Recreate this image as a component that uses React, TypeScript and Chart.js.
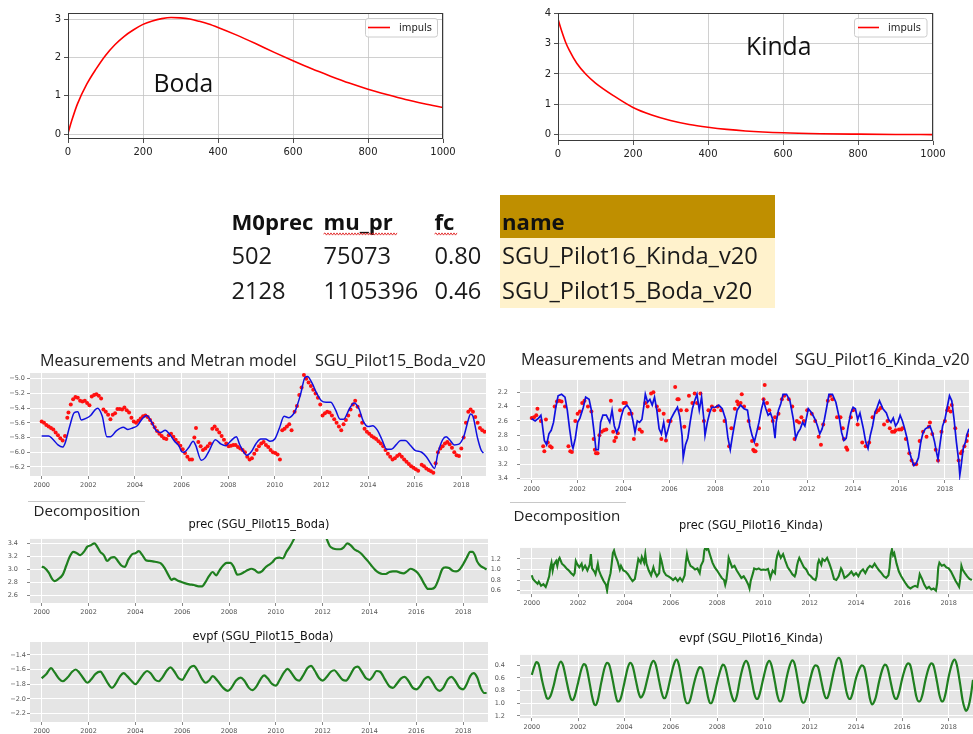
import React, { useEffect, useMemo, useRef } from "react";
import { Chart, registerables } from "chart.js";
Chart.register(...registerables);
Chart.defaults.font.family = "DejaVu Sans";

// ---------------- DATA ----------------
const impulseXTicks = [0, 200, 400, 600, 800, 1000];
const bodaImpulseYTicks = [0, 1, 2, 3];
const kindaImpulseYTicks = [0, 1, 2, 3, 4];
const yearTicks = [2000, 2002, 2004, 2006, 2008, 2010, 2012, 2014, 2016, 2018];

const bodaImpulseX = [0, 10, 25, 50, 75, 100, 125, 150, 175, 200, 225, 250, 275, 300, 325, 350, 375, 400, 450, 500, 550, 600, 650, 700, 750, 800, 850, 900, 950, 1000];
const bodaImpulseY = [0.02, 0.35, 0.78, 1.3, 1.7, 2.05, 2.33, 2.55, 2.72, 2.86, 2.95, 3.01, 3.04, 3.03, 3.0, 2.94, 2.87, 2.78, 2.58, 2.36, 2.13, 1.91, 1.7, 1.51, 1.33, 1.17, 1.03, 0.9, 0.79, 0.69];

const kindaImpulseX = [0, 10, 20, 30, 50, 75, 100, 150, 200, 250, 300, 350, 400, 450, 500, 600, 700, 800, 900, 1000];
const kindaImpulseY = [3.8, 3.4, 3.05, 2.78, 2.35, 1.98, 1.7, 1.27, 0.9, 0.65, 0.47, 0.34, 0.25, 0.18, 0.13, 0.07, 0.04, 0.025, 0.015, 0.01];

const tableHeader = ["M0prec", "mu_pr", "fc", "name"];
const tableRow1 = ["502", "75073", "0.80", "SGU_Pilot16_Kinda_v20"];
const tableRow2 = ["2128", "1105396", "0.46", "SGU_Pilot15_Boda_v20"];

const bodaModel: [number, number][] = [[2000.0,-5.78],[2000.3,-5.78],[2000.5,-5.83],[2000.7,-5.90],[2000.9,-5.93],[2001.0,-5.88],[2001.2,-5.65],[2001.4,-5.46],[2001.55,-5.45],[2001.7,-5.56],[2001.9,-5.54],[2002.1,-5.50],[2002.3,-5.42],[2002.4,-5.40],[2002.6,-5.51],[2002.8,-5.79],[2002.95,-5.79],[2003.2,-5.71],[2003.5,-5.66],[2003.7,-5.69],[2003.9,-5.67],[2004.1,-5.64],[2004.3,-5.55],[2004.5,-5.50],[2004.7,-5.58],[2004.9,-5.70],[2005.1,-5.73],[2005.3,-5.70],[2005.5,-5.76],[2005.7,-5.85],[2005.9,-5.92],[2006.0,-5.99],[2006.1,-6.00],[2006.3,-5.94],[2006.5,-5.85],[2006.6,-5.90],[2006.85,-6.11],[2007.0,-6.08],[2007.2,-5.97],[2007.45,-5.83],[2007.7,-5.89],[2007.9,-5.91],[2008.1,-5.85],[2008.35,-5.79],[2008.5,-5.90],[2008.8,-6.04],[2009.0,-5.99],[2009.2,-5.88],[2009.4,-5.82],[2009.6,-5.82],[2009.8,-5.85],[2010.0,-5.82],[2010.2,-5.67],[2010.4,-5.51],[2010.6,-5.53],[2010.8,-5.48],[2010.9,-5.42],[2011.1,-5.22],[2011.3,-4.98],[2011.4,-4.97],[2011.6,-5.06],[2011.8,-5.20],[2012.0,-5.30],[2012.2,-5.32],[2012.4,-5.32],[2012.6,-5.42],[2012.8,-5.55],[2012.95,-5.55],[2013.2,-5.41],[2013.4,-5.33],[2013.6,-5.40],[2013.8,-5.58],[2014.0,-5.65],[2014.2,-5.64],[2014.4,-5.70],[2014.6,-5.83],[2014.8,-5.96],[2015.0,-5.96],[2015.2,-5.90],[2015.4,-5.84],[2015.6,-5.84],[2015.8,-5.90],[2016.0,-5.97],[2016.3,-6.00],[2016.5,-6.06],[2016.7,-6.16],[2016.85,-6.22],[2017.0,-6.01],[2017.2,-5.83],[2017.35,-5.79],[2017.5,-5.83],[2017.7,-5.90],[2017.9,-5.89],[2018.1,-5.79],[2018.3,-5.56],[2018.4,-5.48],[2018.5,-5.51],[2018.7,-5.81],[2018.85,-5.97],[2018.95,-6.01]];

const bodaObs: [number, number][] = [[2000.0,-5.58],[2000.1,-5.60],[2000.2,-5.63],[2000.3,-5.65],[2000.4,-5.67],[2000.5,-5.69],[2000.6,-5.73],[2000.7,-5.77],[2000.8,-5.81],[2000.9,-5.84],[2001.0,-5.78],[2001.1,-5.53],[2001.15,-5.46],[2001.25,-5.35],[2001.35,-5.28],[2001.45,-5.25],[2001.55,-5.26],[2001.65,-5.30],[2001.75,-5.31],[2001.85,-5.30],[2001.95,-5.33],[2002.05,-5.36],[2002.15,-5.24],[2002.25,-5.22],[2002.35,-5.21],[2002.45,-5.23],[2002.55,-5.27],[2002.65,-5.42],[2002.75,-5.45],[2002.85,-5.49],[2002.95,-5.55],[2003.05,-5.49],[2003.15,-5.47],[2003.25,-5.41],[2003.35,-5.41],[2003.45,-5.42],[2003.55,-5.39],[2003.65,-5.43],[2003.75,-5.46],[2003.85,-5.53],[2003.95,-5.58],[2004.05,-5.60],[2004.15,-5.57],[2004.25,-5.54],[2004.35,-5.51],[2004.45,-5.50],[2004.55,-5.52],[2004.65,-5.56],[2004.75,-5.61],[2004.85,-5.66],[2004.95,-5.71],[2005.05,-5.75],[2005.15,-5.78],[2005.25,-5.81],[2005.35,-5.82],[2005.45,-5.77],[2005.55,-5.75],[2005.65,-5.79],[2005.75,-5.83],[2005.85,-5.87],[2005.95,-5.91],[2006.05,-5.96],[2006.15,-6.01],[2006.25,-6.06],[2006.35,-6.10],[2006.45,-6.10],[2006.55,-5.80],[2006.62,-5.67],[2006.72,-5.86],[2006.82,-5.92],[2006.92,-5.97],[2007.02,-5.95],[2007.12,-5.92],[2007.22,-5.88],[2007.32,-5.68],[2007.42,-5.65],[2007.52,-5.69],[2007.62,-5.73],[2007.72,-5.78],[2007.82,-5.83],[2007.92,-5.88],[2008.02,-5.92],[2008.12,-5.91],[2008.22,-5.90],[2008.32,-5.90],[2008.42,-5.93],[2008.52,-5.95],[2008.62,-5.97],[2008.72,-6.00],[2008.82,-6.06],[2008.92,-6.10],[2009.02,-6.08],[2009.12,-6.02],[2009.22,-5.97],[2009.32,-5.92],[2009.42,-5.88],[2009.52,-5.86],[2009.62,-5.90],[2009.72,-5.93],[2009.82,-5.97],[2009.92,-6.00],[2010.02,-6.01],[2010.12,-6.03],[2010.22,-6.10],[2010.32,-5.70],[2010.42,-5.68],[2010.52,-5.65],[2010.62,-5.62],[2010.72,-5.70],[2010.85,-5.45],[2010.95,-5.37],[2011.05,-5.22],[2011.15,-5.12],[2011.25,-4.95],[2011.35,-5.00],[2011.45,-5.05],[2011.55,-5.10],[2011.65,-5.15],[2011.75,-5.20],[2011.85,-5.26],[2011.95,-5.35],[2012.05,-5.50],[2012.15,-5.47],[2012.25,-5.45],[2012.35,-5.46],[2012.45,-5.50],[2012.55,-5.55],[2012.65,-5.60],[2012.75,-5.65],[2012.85,-5.70],[2012.95,-5.62],[2013.05,-5.56],[2013.15,-5.50],[2013.25,-5.42],[2013.35,-5.35],[2013.45,-5.30],[2013.55,-5.38],[2013.65,-5.50],[2013.75,-5.60],[2013.85,-5.68],[2013.95,-5.72],[2014.05,-5.75],[2014.15,-5.78],[2014.25,-5.80],[2014.35,-5.82],[2014.45,-5.85],[2014.55,-5.88],[2014.65,-5.92],[2014.75,-5.97],[2014.85,-6.02],[2014.95,-6.06],[2015.05,-6.10],[2015.15,-6.08],[2015.25,-6.05],[2015.35,-6.03],[2015.45,-6.06],[2015.55,-6.10],[2015.65,-6.13],[2015.75,-6.16],[2015.85,-6.19],[2015.95,-6.21],[2016.05,-6.23],[2016.15,-6.25],[2016.3,-6.17],[2016.4,-6.19],[2016.5,-6.22],[2016.6,-6.24],[2016.7,-6.26],[2016.8,-6.28],[2016.9,-6.15],[2017.0,-6.00],[2017.1,-5.95],[2017.2,-5.92],[2017.3,-5.88],[2017.4,-5.86],[2017.5,-5.89],[2017.6,-5.94],[2017.7,-6.00],[2017.8,-6.04],[2017.9,-6.05],[2018.0,-5.95],[2018.1,-5.80],[2018.2,-5.60],[2018.3,-5.45],[2018.4,-5.42],[2018.5,-5.45],[2018.6,-5.52],[2018.7,-5.60],[2018.8,-5.67],[2018.9,-5.70],[2019.0,-5.72]];

const kindaModel: [number, number][] = [[2000.0,2.57],[2000.15,2.60],[2000.3,2.56],[2000.4,2.52],[2000.45,2.62],[2000.55,2.87],[2000.65,2.93],[2000.75,2.78],[2000.85,2.73],[2000.95,2.62],[2001.05,2.41],[2001.15,2.25],[2001.3,2.23],[2001.45,2.27],[2001.55,2.45],[2001.65,2.71],[2001.75,2.93],[2001.8,2.98],[2001.9,2.84],[2002.0,2.62],[2002.1,2.56],[2002.25,2.41],[2002.35,2.27],[2002.5,2.30],[2002.6,2.45],[2002.7,2.71],[2002.8,3.00],[2002.9,3.00],[2003.0,2.62],[2003.1,2.52],[2003.25,2.52],[2003.4,2.62],[2003.5,2.45],[2003.6,2.67],[2003.7,2.76],[2003.8,2.69],[2003.9,2.54],[2004.0,2.43],[2004.15,2.38],[2004.3,2.45],[2004.4,2.58],[2004.5,2.76],[2004.6,2.60],[2004.7,2.62],[2004.8,2.58],[2004.9,2.36],[2004.95,2.23],[2005.05,2.34],[2005.15,2.30],[2005.25,2.38],[2005.35,2.27],[2005.45,2.45],[2005.55,2.71],[2005.65,2.78],[2005.75,2.62],[2005.85,2.82],[2005.95,2.71],[2006.05,2.58],[2006.2,2.49],[2006.35,2.41],[2006.45,2.54],[2006.55,2.80],[2006.6,3.11],[2006.7,2.93],[2006.8,2.84],[2006.9,2.62],[2007.0,2.43],[2007.1,2.32],[2007.2,2.23],[2007.3,2.45],[2007.4,2.27],[2007.5,2.58],[2007.55,2.80],[2007.65,2.62],[2007.75,2.49],[2007.85,2.41],[2008.0,2.41],[2008.15,2.38],[2008.3,2.43],[2008.45,2.58],[2008.55,2.84],[2008.65,3.00],[2008.75,2.80],[2008.85,2.62],[2008.95,2.45],[2009.1,2.38],[2009.25,2.43],[2009.4,2.45],[2009.5,2.67],[2009.6,2.80],[2009.7,2.89],[2009.8,2.76],[2009.9,2.62],[2010.0,2.45],[2010.1,2.32],[2010.2,2.43],[2010.3,2.52],[2010.4,2.49],[2010.5,2.58],[2010.6,2.84],[2010.65,2.62],[2010.75,2.45],[2010.85,2.36],[2010.95,2.23],[2011.1,2.23],[2011.25,2.32],[2011.4,2.58],[2011.5,2.84],[2011.6,2.76],[2011.7,2.71],[2011.8,2.62],[2011.9,2.67],[2012.05,2.43],[2012.2,2.49],[2012.35,2.58],[2012.45,2.67],[2012.55,2.78],[2012.65,2.71],[2012.75,2.58],[2012.85,2.41],[2012.95,2.23],[2013.1,2.23],[2013.25,2.34],[2013.4,2.56],[2013.5,2.76],[2013.6,2.87],[2013.7,2.84],[2013.8,2.65],[2013.9,2.49],[2014.0,2.41],[2014.1,2.43],[2014.2,2.58],[2014.3,2.49],[2014.45,2.71],[2014.55,2.89],[2014.65,2.98],[2014.75,2.80],[2014.85,2.67],[2014.95,2.49],[2015.05,2.41],[2015.15,2.32],[2015.3,2.43],[2015.45,2.49],[2015.55,2.58],[2015.65,2.62],[2015.75,2.56],[2015.85,2.67],[2015.95,2.62],[2016.05,2.52],[2016.15,2.60],[2016.25,2.71],[2016.35,2.84],[2016.45,3.02],[2016.55,3.13],[2016.65,3.22],[2016.75,3.19],[2016.85,3.11],[2016.95,2.89],[2017.05,2.76],[2017.15,2.71],[2017.25,2.69],[2017.35,2.67],[2017.45,2.76],[2017.55,2.89],[2017.65,3.06],[2017.7,3.13],[2017.8,2.89],[2017.9,2.67],[2018.0,2.58],[2018.1,2.41],[2018.2,2.25],[2018.3,2.32],[2018.4,2.58],[2018.5,2.89],[2018.6,3.15],[2018.65,3.35],[2018.7,3.24],[2018.8,2.98],[2018.9,2.89],[2018.95,2.80],[2019.05,2.71]];

const kindaObs: [number, number][] = [[2000.0,2.56],[2000.1,2.55],[2000.2,2.52],[2000.25,2.43],[2000.4,2.60],[2000.5,2.95],[2000.55,3.02],[2000.62,2.58],[2000.7,2.90],[2000.8,2.95],[2000.87,2.97],[2001.0,2.40],[2001.1,2.33],[2001.2,2.32],[2001.3,2.33],[2001.45,2.40],[2001.6,2.95],[2001.68,3.02],[2001.75,3.03],[2001.9,2.60],[2002.0,2.50],[2002.1,2.47],[2002.2,2.35],[2002.3,2.32],[2002.45,2.40],[2002.6,2.47],[2002.7,2.85],[2002.75,3.00],[2002.8,3.05],[2002.87,3.05],[2002.95,2.80],[2003.05,2.75],[2003.15,2.73],[2003.25,2.72],[2003.45,2.32],[2003.55,2.75],[2003.6,2.88],[2003.67,2.83],[2003.75,2.77],[2003.85,2.45],[2004.0,2.35],[2004.1,2.35],[2004.25,2.50],[2004.35,2.50],[2004.45,2.85],[2004.7,2.72],[2004.8,2.75],[2004.95,2.35],[2005.05,2.40],[2005.2,2.22],[2005.3,2.20],[2005.45,2.40],[2005.55,2.45],[2005.65,2.85],[2005.75,2.50],[2005.85,2.87],[2005.95,2.60],[2006.05,2.60],[2006.25,2.13],[2006.35,2.30],[2006.4,2.30],[2006.5,2.45],[2006.65,2.68],[2006.75,2.45],[2006.85,2.25],[2007.0,2.35],[2007.1,2.22],[2007.2,2.35],[2007.35,2.22],[2007.5,2.60],[2007.7,2.45],[2007.85,2.40],[2007.95,2.45],[2008.1,2.40],[2008.25,2.45],[2008.4,2.60],[2008.6,2.95],[2008.7,2.70],[2008.85,2.43],[2008.95,2.33],[2009.0,2.37],[2009.1,2.35],[2009.15,2.23],[2009.25,2.40],[2009.45,2.60],[2009.6,2.88],[2009.65,3.00],[2009.7,3.02],[2009.75,3.02],[2009.8,2.93],[2009.9,2.70],[2010.1,2.30],[2010.15,2.10],[2010.25,2.35],[2010.35,2.45],[2010.5,2.60],[2010.6,2.55],[2010.75,2.50],[2010.9,2.30],[2011.0,2.25],[2011.2,2.30],[2011.35,2.40],[2011.45,2.85],[2011.55,2.60],[2011.65,2.62],[2011.75,2.55],[2011.85,2.60],[2012.0,2.45],[2012.2,2.50],[2012.35,2.60],[2012.5,2.82],[2012.6,2.93],[2012.7,2.65],[2012.9,2.32],[2013.0,2.25],[2013.1,2.30],[2013.3,2.55],[2013.45,2.55],[2013.55,2.70],[2013.6,2.85],[2013.7,2.97],[2013.75,3.00],[2013.9,2.55],[2014.0,2.45],[2014.2,2.65],[2014.4,2.90],[2014.55,2.95],[2014.7,2.90],[2014.85,2.55],[2015.0,2.48],[2015.1,2.45],[2015.2,2.42],[2015.35,2.65],[2015.5,2.60],[2015.6,2.70],[2015.7,2.75],[2015.8,2.75],[2015.85,2.73],[2016.0,2.72],[2016.1,2.72],[2016.15,2.70],[2016.3,2.85],[2016.45,3.05],[2016.55,3.15],[2016.65,3.20],[2016.75,3.20],[2016.9,2.88],[2017.05,2.75],[2017.2,2.82],[2017.3,2.68],[2017.35,2.62],[2017.45,2.78],[2017.6,3.00],[2017.7,3.15],[2017.85,2.75],[2018.0,2.60],[2018.1,2.45],[2018.15,2.42],[2018.25,2.47],[2018.3,2.38],[2018.45,2.70],[2018.6,3.15],[2018.7,3.05],[2018.75,3.02],[2018.85,2.95],[2018.95,2.88],[2019.0,2.80]];

const bodaPrec: [number, number][] = [[2000.0,3.04],[2000.1,3.03],[2000.3,2.95],[2000.45,2.85],[2000.55,2.82],[2000.7,2.85],[2000.9,2.92],[2001.05,3.06],[2001.2,3.20],[2001.35,3.27],[2001.5,3.25],[2001.65,3.22],[2001.8,3.27],[2001.95,3.35],[2002.1,3.37],[2002.25,3.40],[2002.35,3.36],[2002.5,3.27],[2002.65,3.22],[2002.8,3.13],[2002.95,3.18],[2003.1,3.19],[2003.25,3.13],[2003.4,3.06],[2003.55,3.04],[2003.7,3.15],[2003.85,3.23],[2004.0,3.25],[2004.15,3.28],[2004.3,3.22],[2004.45,3.14],[2004.6,3.13],[2004.8,3.12],[2004.95,3.11],[2005.1,3.09],[2005.25,3.02],[2005.4,2.92],[2005.55,2.84],[2005.65,2.86],[2005.8,2.83],[2005.95,2.81],[2006.1,2.79],[2006.3,2.77],[2006.5,2.76],[2006.7,2.74],[2006.85,2.74],[2007.0,2.81],[2007.15,2.90],[2007.3,2.96],[2007.45,2.91],[2007.6,2.99],[2007.75,3.06],[2007.9,3.10],[2008.05,3.10],[2008.2,3.04],[2008.35,2.92],[2008.5,2.93],[2008.65,2.96],[2008.8,2.99],[2008.95,3.01],[2009.1,2.99],[2009.25,2.95],[2009.4,2.97],[2009.55,3.03],[2009.7,3.07],[2009.85,3.11],[2010.0,3.17],[2010.15,3.18],[2010.3,3.17],[2010.45,3.27],[2010.6,3.35],[2010.75,3.45],[2010.85,3.53],[2011.1,3.72],[2011.5,3.85],[2011.9,3.72],[2012.05,3.58],[2012.15,3.49],[2012.3,3.36],[2012.45,3.32],[2012.6,3.31],[2012.75,3.31],[2012.9,3.34],[2013.05,3.40],[2013.2,3.37],[2013.35,3.31],[2013.5,3.28],[2013.65,3.24],[2013.8,3.18],[2013.95,3.12],[2014.1,3.05],[2014.25,2.99],[2014.4,2.95],[2014.55,2.93],[2014.7,2.93],[2014.85,2.96],[2015.0,2.97],[2015.15,2.97],[2015.3,2.95],[2015.45,2.94],[2015.6,2.97],[2015.75,3.01],[2015.9,2.99],[2016.05,2.95],[2016.2,2.87],[2016.35,2.77],[2016.5,2.70],[2016.65,2.70],[2016.8,2.73],[2016.95,2.85],[2017.1,3.00],[2017.25,3.03],[2017.4,3.02],[2017.55,2.98],[2017.7,2.97],[2017.85,3.00],[2018.0,3.08],[2018.15,3.18],[2018.3,3.27],[2018.4,3.27],[2018.5,3.22],[2018.6,3.12],[2018.75,3.05],[2018.9,3.02],[2019.0,3.00]];

const kindaPrec: [number, number][] = [[2000.0,0.89],[2000.05,0.82],[2000.15,0.77],[2000.25,0.73],[2000.3,0.77],[2000.4,0.69],[2000.5,0.72],[2000.6,0.67],[2000.65,0.73],[2000.75,0.87],[2000.8,1.04],[2000.85,1.13],[2000.9,0.98],[2000.95,1.09],[2001.05,1.16],[2001.1,1.07],[2001.15,1.18],[2001.2,1.22],[2001.3,1.11],[2001.4,1.07],[2001.5,1.02],[2001.6,0.98],[2001.7,0.93],[2001.8,0.89],[2001.85,0.93],[2001.9,1.16],[2001.95,1.11],[2002.05,1.04],[2002.15,1.11],[2002.2,1.0],[2002.3,1.07],[2002.4,0.98],[2002.5,1.09],[2002.55,1.29],[2002.6,1.02],[2002.7,0.96],[2002.75,0.91],[2002.85,1.11],[2002.9,0.98],[2003.0,0.87],[2003.1,0.78],[2003.2,0.71],[2003.25,0.60],[2003.3,0.76],[2003.4,0.93],[2003.45,1.11],[2003.5,1.31],[2003.55,1.36],[2003.6,1.27],[2003.7,1.16],[2003.8,1.0],[2003.85,1.07],[2003.95,0.98],[2004.05,0.96],[2004.15,0.91],[2004.25,0.84],[2004.35,0.78],[2004.45,0.82],[2004.55,1.07],[2004.6,1.2],[2004.7,1.13],[2004.75,1.24],[2004.85,1.13],[2004.9,1.29],[2004.95,1.11],[2005.05,0.98],[2005.15,0.89],[2005.25,1.04],[2005.3,0.96],[2005.4,0.87],[2005.5,0.93],[2005.55,1.24],[2005.6,1.16],[2005.7,0.96],[2005.8,0.89],[2005.9,0.87],[2006.0,0.84],[2006.1,0.80],[2006.2,0.84],[2006.3,0.78],[2006.4,0.84],[2006.5,0.78],[2006.6,0.89],[2006.65,1.13],[2006.7,1.29],[2006.75,1.18],[2006.85,1.07],[2006.95,1.04],[2007.05,1.0],[2007.15,1.02],[2007.25,0.93],[2007.3,1.07],[2007.4,1.16],[2007.45,1.36],[2007.5,1.42],[2007.55,1.38],[2007.6,1.41],[2007.7,1.27],[2007.8,1.13],[2007.9,1.04],[2008.0,0.98],[2008.1,0.91],[2008.2,0.84],[2008.3,0.80],[2008.35,0.71],[2008.4,0.80],[2008.45,0.98],[2008.5,1.22],[2008.55,1.16],[2008.65,1.04],[2008.75,1.07],[2008.85,0.98],[2008.95,0.91],[2009.05,0.84],[2009.15,0.87],[2009.25,0.80],[2009.35,0.71],[2009.4,0.64],[2009.45,0.78],[2009.55,0.93],[2009.6,1.02],[2009.7,1.0],[2009.8,1.02],[2009.9,0.99],[2010.0,1.0],[2010.1,0.99],[2010.2,1.01],[2010.3,0.84],[2010.4,0.98],[2010.5,0.93],[2010.55,1.16],[2010.6,1.27],[2010.65,1.33],[2010.75,1.22],[2010.85,1.29],[2010.95,1.16],[2011.05,1.04],[2011.15,0.98],[2011.25,0.91],[2011.35,0.87],[2011.4,0.93],[2011.45,1.07],[2011.5,1.16],[2011.55,1.22],[2011.65,1.13],[2011.75,1.04],[2011.85,1.0],[2011.95,0.91],[2012.05,0.87],[2012.15,0.82],[2012.25,0.80],[2012.3,0.87],[2012.35,1.11],[2012.4,1.18],[2012.5,1.09],[2012.55,1.2],[2012.65,1.16],[2012.75,1.22],[2012.85,1.11],[2012.95,0.98],[2013.05,0.82],[2013.15,0.80],[2013.25,0.87],[2013.35,1.02],[2013.4,0.98],[2013.5,0.84],[2013.6,0.87],[2013.7,0.91],[2013.8,0.96],[2013.9,0.89],[2014.0,0.93],[2014.1,0.87],[2014.2,0.96],[2014.3,1.0],[2014.4,0.93],[2014.5,1.02],[2014.6,1.07],[2014.7,1.04],[2014.8,1.11],[2014.9,1.04],[2015.0,0.98],[2015.1,0.93],[2015.2,0.87],[2015.3,0.84],[2015.4,0.89],[2015.45,1.04],[2015.5,1.29],[2015.55,1.38],[2015.6,1.27],[2015.65,1.31],[2015.75,1.11],[2015.85,0.96],[2015.95,0.87],[2016.05,0.80],[2016.15,0.73],[2016.25,0.67],[2016.35,0.64],[2016.45,0.67],[2016.55,0.69],[2016.65,0.67],[2016.7,0.78],[2016.75,0.91],[2016.85,0.82],[2016.95,0.71],[2017.05,0.64],[2017.15,0.67],[2017.25,0.62],[2017.35,0.64],[2017.45,0.60],[2017.5,0.73],[2017.55,1.04],[2017.6,1.13],[2017.7,1.07],[2017.8,1.09],[2017.9,1.04],[2018.0,1.02],[2018.1,0.96],[2018.2,0.87],[2018.3,0.78],[2018.4,0.71],[2018.45,0.67],[2018.5,0.82],[2018.55,1.07],[2018.6,1.0],[2018.7,0.93],[2018.8,0.87],[2018.9,0.82],[2019.0,0.80]];

const bodaEvpf: [number, number][] = [[2000.0,-1.72],[2000.2,-1.66],[2000.4,-1.58],[2000.55,-1.64],[2000.75,-1.73],[2000.9,-1.76],[2001.1,-1.71],[2001.3,-1.63],[2001.45,-1.60],[2001.6,-1.64],[2001.8,-1.73],[2001.95,-1.78],[2002.1,-1.74],[2002.3,-1.66],[2002.5,-1.63],[2002.65,-1.69],[2002.85,-1.80],[2003.0,-1.85],[2003.15,-1.80],[2003.35,-1.69],[2003.5,-1.65],[2003.65,-1.69],[2003.85,-1.76],[2004.0,-1.80],[2004.15,-1.75],[2004.35,-1.66],[2004.5,-1.62],[2004.65,-1.65],[2004.85,-1.74],[2005.0,-1.76],[2005.15,-1.71],[2005.35,-1.61],[2005.5,-1.57],[2005.65,-1.62],[2005.85,-1.72],[2006.0,-1.74],[2006.15,-1.67],[2006.35,-1.57],[2006.5,-1.55],[2006.65,-1.61],[2006.85,-1.73],[2007.0,-1.78],[2007.15,-1.75],[2007.3,-1.69],[2007.5,-1.75],[2007.75,-1.85],[2007.95,-1.89],[2008.1,-1.85],[2008.3,-1.75],[2008.5,-1.71],[2008.65,-1.75],[2008.85,-1.85],[2009.0,-1.88],[2009.15,-1.84],[2009.35,-1.73],[2009.5,-1.68],[2009.65,-1.72],[2009.85,-1.80],[2010.0,-1.82],[2010.15,-1.75],[2010.35,-1.64],[2010.5,-1.59],[2010.65,-1.64],[2010.85,-1.73],[2011.0,-1.75],[2011.15,-1.69],[2011.35,-1.58],[2011.5,-1.55],[2011.65,-1.61],[2011.85,-1.72],[2012.0,-1.75],[2012.15,-1.71],[2012.35,-1.63],[2012.5,-1.61],[2012.65,-1.66],[2012.85,-1.74],[2013.0,-1.75],[2013.15,-1.69],[2013.35,-1.58],[2013.5,-1.56],[2013.65,-1.62],[2013.85,-1.72],[2014.0,-1.74],[2014.15,-1.69],[2014.3,-1.62],[2014.45,-1.63],[2014.65,-1.73],[2014.85,-1.83],[2015.0,-1.85],[2015.15,-1.80],[2015.35,-1.72],[2015.5,-1.70],[2015.65,-1.75],[2015.85,-1.85],[2016.0,-1.87],[2016.15,-1.83],[2016.35,-1.73],[2016.5,-1.70],[2016.65,-1.75],[2016.85,-1.86],[2017.0,-1.89],[2017.15,-1.85],[2017.35,-1.73],[2017.5,-1.70],[2017.65,-1.75],[2017.85,-1.85],[2018.0,-1.87],[2018.15,-1.80],[2018.3,-1.69],[2018.45,-1.65],[2018.6,-1.71],[2018.75,-1.85],[2018.9,-1.92],[2019.0,-1.92]];

const kindaEvpf: [number, number][] = [[2000.0,0.55],[2000.1,0.43],[2000.2,0.35],[2000.3,0.39],[2000.45,0.65],[2000.55,0.80],[2000.65,0.92],[2000.7,0.93],[2000.8,0.89],[2000.95,0.71],[2001.1,0.47],[2001.25,0.34],[2001.35,0.40],[2001.5,0.65],[2001.6,0.82],[2001.7,0.94],[2001.75,0.95],[2001.85,0.89],[2002.0,0.67],[2002.15,0.45],[2002.25,0.38],[2002.35,0.42],[2002.5,0.69],[2002.6,0.89],[2002.7,1.02],[2002.75,1.03],[2002.85,0.95],[2003.0,0.67],[2003.15,0.43],[2003.25,0.36],[2003.35,0.40],[2003.5,0.65],[2003.6,0.84],[2003.7,0.97],[2003.75,0.97],[2003.85,0.91],[2004.0,0.67],[2004.15,0.43],[2004.25,0.36],[2004.35,0.41],[2004.5,0.65],[2004.6,0.82],[2004.7,0.91],[2004.75,0.90],[2004.85,0.82],[2005.0,0.60],[2005.15,0.39],[2005.25,0.33],[2005.35,0.39],[2005.5,0.65],[2005.6,0.82],[2005.7,0.92],[2005.75,0.92],[2005.85,0.82],[2006.0,0.58],[2006.15,0.37],[2006.25,0.31],[2006.35,0.39],[2006.5,0.69],[2006.6,0.91],[2006.7,1.0],[2006.75,1.0],[2006.85,0.93],[2007.0,0.69],[2007.15,0.50],[2007.25,0.43],[2007.35,0.45],[2007.5,0.69],[2007.6,0.89],[2007.7,1.0],[2007.75,1.0],[2007.85,0.91],[2008.0,0.67],[2008.15,0.47],[2008.25,0.39],[2008.35,0.43],[2008.5,0.67],[2008.6,0.84],[2008.7,0.95],[2008.75,0.97],[2008.85,0.89],[2009.0,0.60],[2009.15,0.39],[2009.25,0.33],[2009.35,0.39],[2009.5,0.65],[2009.6,0.84],[2009.7,0.93],[2009.75,0.93],[2009.85,0.84],[2010.0,0.60],[2010.15,0.39],[2010.25,0.33],[2010.35,0.40],[2010.5,0.67],[2010.6,0.87],[2010.7,0.97],[2010.75,0.97],[2010.85,0.89],[2011.0,0.60],[2011.15,0.39],[2011.25,0.32],[2011.35,0.38],[2011.5,0.67],[2011.6,0.89],[2011.7,0.99],[2011.75,0.99],[2011.85,0.91],[2012.0,0.65],[2012.15,0.45],[2012.25,0.40],[2012.35,0.42],[2012.5,0.65],[2012.6,0.82],[2012.7,0.92],[2012.75,0.92],[2012.85,0.82],[2013.0,0.56],[2013.15,0.34],[2013.25,0.28],[2013.35,0.34],[2013.5,0.65],[2013.6,0.84],[2013.7,0.93],[2013.75,0.93],[2013.85,0.84],[2014.0,0.60],[2014.15,0.45],[2014.25,0.40],[2014.35,0.43],[2014.5,0.71],[2014.6,0.93],[2014.7,1.02],[2014.75,1.0],[2014.85,0.91],[2015.0,0.65],[2015.15,0.45],[2015.25,0.39],[2015.35,0.43],[2015.5,0.67],[2015.6,0.84],[2015.7,0.93],[2015.75,0.93],[2015.85,0.84],[2016.0,0.60],[2016.15,0.42],[2016.25,0.37],[2016.35,0.41],[2016.5,0.69],[2016.6,0.89],[2016.7,0.97],[2016.75,0.97],[2016.85,0.89],[2017.0,0.63],[2017.15,0.43],[2017.25,0.37],[2017.35,0.41],[2017.5,0.67],[2017.6,0.87],[2017.7,0.97],[2017.75,0.97],[2017.85,0.87],[2018.0,0.58],[2018.15,0.37],[2018.25,0.31],[2018.35,0.39],[2018.5,0.71],[2018.6,0.95],[2018.7,1.09],[2018.75,1.12],[2018.85,1.06],[2018.95,0.89],[2019.05,0.63]];

const bodaMeasYTicks = [-6.2, -6.0, -5.8, -5.6, -5.4, -5.2, -5.0];
const kindaMeasYTicks = [2.2, 2.4, 2.6, 2.8, 3.0, 3.2, 3.4];
const bodaPrecYTicks = [2.6, 2.8, 3.0, 3.2, 3.4];
const kindaPrecYTicks = [0.6, 0.8, 1.0, 1.2];
const bodaEvpfYTicks = [-2.2, -2.0, -1.8, -1.6, -1.4];
const kindaEvpfYTicks = [0.4, 0.6, 0.8, 1.0, 1.2];

// ---------------- HELPERS ----------------
type Rect = { x: number; y: number; w: number; h: number };
type Margin = { l: number; t: number; r: number; b: number };

const GREEN = "#1f7f1f";
const fmt1 = (v: number) => v.toFixed(1).replace("-", "\u2212");
const fmt0 = (v: number) => String(Math.round(v));

function framePlugin(style: "gg" | "classic") {
  return {
    id: "frame_" + style,
    beforeDraw(chart: any) {
      if (style !== "gg") return;
      const a = chart.chartArea;
      const ctx = chart.ctx;
      ctx.save();
      ctx.fillStyle = "#e5e5e5";
      ctx.fillRect(a.left, a.top, a.right - a.left, a.bottom - a.top);
      ctx.restore();
    },
    afterDraw(chart: any) {
      if (style !== "classic") return;
      const a = chart.chartArea;
      const ctx = chart.ctx;
      ctx.save();
      ctx.strokeStyle = "#3a3a3a";
      ctx.lineWidth = 1;
      ctx.strokeRect(Math.round(a.left) + 0.5, Math.round(a.top) + 0.5, Math.round(a.right - a.left) - 1, Math.round(a.bottom - a.top) - 1);
      ctx.restore();
    },
  };
}

function axis(o: {
  min: number; max: number; ticks: number[]; fit: (s: any) => void;
  fmt: (v: number) => string; style: "gg" | "classic"; reverse?: boolean; pad?: number;
}) {
  const gg = o.style === "gg";
  return {
    type: "linear",
    min: o.min,
    max: o.max,
    reverse: !!o.reverse,
    afterBuildTicks: (s: any) => { s.ticks = o.ticks.map((v) => ({ value: v })); },
    afterFit: o.fit,
    grid: gg
      ? { color: "#ffffff", lineWidth: 1, tickColor: "#888", tickLength: 3 }
      : { color: "#c4c4c4", lineWidth: 0.8, tickColor: "#222", tickLength: 4 },
    border: { display: false },
    ticks: {
      autoSkip: false,
      maxRotation: 0,
      padding: o.pad ?? (gg ? 2 : 3),
      color: gg ? "#555" : "#222",
      font: { family: "DejaVu Sans", size: gg ? 6.5 : 10 },
      callback: (v: any) => o.fmt(Number(v)),
    },
  };
}

function PlotChart(props: {
  plot: Rect; m: Margin; style: "gg" | "classic"; datasets: any[];
  xmin: number; xmax: number; xticks: number[]; xfmt: (v: number) => string;
  ymin: number; ymax: number; yticks: number[]; yfmt: (v: number) => string;
  reverse?: boolean; ypad?: number;
}) {
  const ref = useRef<HTMLCanvasElement>(null);
  const { plot, m } = props;
  const W = Math.round(plot.w + m.l + m.r);
  const H = Math.round(plot.h + m.t + m.b);
  useEffect(() => {
    const chart = new Chart(ref.current as HTMLCanvasElement, {
      type: "line",
      data: { datasets: props.datasets },
      options: {
        animation: false,
        responsive: false,
        devicePixelRatio: 1,
        events: [],
        layout: { padding: { left: 0, top: m.t, right: m.r, bottom: 0 } },
        plugins: { legend: { display: false }, tooltip: { enabled: false }, title: { display: false } },
        scales: {
          x: axis({ min: props.xmin, max: props.xmax, ticks: props.xticks, fmt: props.xfmt, style: props.style, fit: (s: any) => { s.height = m.b; } }),
          y: axis({ min: props.ymin, max: props.ymax, ticks: props.yticks, fmt: props.yfmt, style: props.style, reverse: props.reverse, pad: props.ypad, fit: (s: any) => { s.width = m.l; } }),
        },
      } as any,
      plugins: [framePlugin(props.style)],
    } as any);
    return () => chart.destroy();
  }, []);
  return (
    <canvas
      ref={ref}
      width={W}
      height={H}
      style={{ position: "absolute", left: plot.x - m.l, top: plot.y - m.t, width: W, height: H }}
    />
  );
}

const pts = (a: [number, number][]) => a.map(([x, y]) => ({ x, y }));
const zipPts = (xs: number[], ys: number[]) => xs.map((x, i) => ({ x, y: ys[i] }));

const lineDs = (data: any[], color: string, width: number, smooth: boolean) => ({
  data, borderColor: color, borderWidth: width, pointRadius: 0, fill: false, showLine: true,
  tension: smooth ? 0.4 : 0, cubicInterpolationMode: smooth ? "monotone" : "default",
});
const dotDs = (data: any[], color: string) => ({
  data, showLine: false, pointRadius: 2, pointBackgroundColor: color, pointBorderWidth: 0, borderColor: color,
});

function fitSize(text: string, family: string, weight: number, width: number) {
  const c = document.createElement("canvas").getContext("2d") as CanvasRenderingContext2D;
  c.font = `${weight} 100px ${family}`;
  return (100 * width) / c.measureText(text).width;
}

function wave(x0: number, x1: number, y: number) {
  let d = `M${x0} ${y}`;
  let up = true;
  for (let x = x0 + 1.5; x <= x1; x += 1.5) {
    d += ` L${x.toFixed(1)} ${up ? y - 1.1 : y + 1.1}`;
    up = !up;
  }
  return d;
}

// ---------------- APP ----------------
export default function App() {
  const OS = '"Open Sans"';
  const DV = '"DejaVu Sans"';
  const sizes = useMemo(() => ({
    table: fitSize(tableRow1[3], OS, 400, 256),
    head: fitSize(tableHeader[0], OS, 700, 82),
    title: fitSize("Measurements and Metran model", OS, 400, 257),
    decomp: fitSize("Decomposition", OS, 400, 107),
    place: fitSize("Kinda", OS, 400, 65.5),
    sub: fitSize("prec (SGU_Pilot15_Boda)", DV, 400, 141),
    legend: fitSize("impuls", DV, 400, 33),
  }), []);

  const classicM: Margin = { l: 40, t: 10, r: 26, b: 26 };

  const txt = (s: string, x: number, y: number, size: number, fam: string, opt: any = {}) => (
    <text x={x} y={y} fontSize={size} fontFamily={fam} fill={opt.fill || "#111"} fontWeight={opt.weight || 400} textAnchor={opt.anchor || "start"}>{s}</text>
  );

  return (
    <div style={{ position: "absolute", left: 0, top: 0, width: 973, height: 734, background: "#fff", overflow: "hidden" }}>
      {/* Impulse charts */}
      <PlotChart
        plot={{ x: 68, y: 13, w: 375, h: 126 }} m={classicM} style="classic"
        datasets={[lineDs(zipPts(bodaImpulseX, bodaImpulseY), "#ff0000", 1.6, true)]}
        xmin={0} xmax={1000} xticks={impulseXTicks} xfmt={fmt0}
        ymin={-0.13} ymax={3.157} yticks={bodaImpulseYTicks} yfmt={fmt0}
      />
      <PlotChart
        plot={{ x: 558, y: 13, w: 375, h: 128 }} m={classicM} style="classic"
        datasets={[lineDs(zipPts(kindaImpulseX, kindaImpulseY), "#ff0000", 1.6, true)]}
        xmin={0} xmax={1000} xticks={impulseXTicks} xfmt={fmt0}
        ymin={-0.2} ymax={4.0} yticks={kindaImpulseYTicks} yfmt={fmt0}
      />

      {/* Measurements */}
      <PlotChart
        plot={{ x: 30, y: 373, w: 458, h: 103 }} m={{ l: 30, t: 8, r: 2, b: 14 }} style="gg"
        datasets={[lineDs(pts(bodaModel), "#1010e0", 1.5, true), dotDs(pts(bodaObs), "#ff1010")]}
        xmin={1999.5} xmax={2019.06} xticks={yearTicks} xfmt={fmt0}
        ymin={-6.323} ymax={-4.922} yticks={bodaMeasYTicks} yfmt={fmt1} ypad={2}
      />
      <PlotChart
        plot={{ x: 520, y: 375, w: 453, h: 105 }} m={{ l: 30, t: 8, r: 0, b: 14 }} style="gg"
        datasets={[lineDs(pts(kindaModel), "#1010e0", 1.7, false), dotDs(pts(kindaObs), "#ff1010")]}
        xmin={1999.49} xmax={2019.05} xticks={yearTicks} xfmt={fmt0}
        ymin={2.03} ymax={3.42} yticks={kindaMeasYTicks} yfmt={fmt1} reverse ypad={9}
      />

      {/* Decomposition prec */}
      <PlotChart
        plot={{ x: 30, y: 532, w: 458, h: 71 }} m={{ l: 30, t: 6, r: 2, b: 14 }} style="gg"
        datasets={[lineDs(pts(bodaPrec), GREEN, 2.2, true)]}
        xmin={1999.5} xmax={2019.06} xticks={yearTicks} xfmt={fmt0}
        ymin={2.484} ymax={3.469} yticks={bodaPrecYTicks} yfmt={fmt1} ypad={9}
      />
      <PlotChart
        plot={{ x: 520, y: 534, w: 453, h: 66 }} m={{ l: 30, t: 6, r: 0, b: 14 }} style="gg"
        datasets={[lineDs(pts(kindaPrec), GREEN, 2.1, false)]}
        xmin={1999.49} xmax={2019.05} xticks={yearTicks} xfmt={fmt0}
        ymin={0.533} ymax={1.409} yticks={kindaPrecYTicks} yfmt={fmt1} ypad={16}
      />

      {/* Decomposition evpf */}
      <PlotChart
        plot={{ x: 30, y: 642, w: 458, h: 80 }} m={{ l: 30, t: 6, r: 2, b: 12 }} style="gg"
        datasets={[lineDs(pts(bodaEvpf), GREEN, 2.2, true)]}
        xmin={1999.5} xmax={2019.06} xticks={yearTicks} xfmt={fmt0}
        ymin={-2.315} ymax={-1.225} yticks={bodaEvpfYTicks} yfmt={fmt1} ypad={1}
      />
      <PlotChart
        plot={{ x: 520, y: 645, w: 453, h: 77 }} m={{ l: 30, t: 6, r: 0, b: 12 }} style="gg"
        datasets={[lineDs(pts(kindaEvpf), GREEN, 2.2, true)]}
        xmin={1999.49} xmax={2019.05} xticks={yearTicks} xfmt={fmt0}
        ymin={0.235} ymax={1.235} yticks={kindaEvpfYTicks} yfmt={fmt1} reverse ypad={12}
      />

      <svg width={973} height={734} style={{ position: "absolute", left: 0, top: 0 }}>
        {/* legends of impulse charts */}
        <rect x={365.5} y={18.5} width={72} height={18.5} rx={2.5} fill="#ffffff" fillOpacity={0.85} stroke="#cccccc" />
        <line x1={368} y1={27.5} x2={390} y2={27.5} stroke="#ff0000" strokeWidth={1.6} />
        {txt("impuls", 399, 31, sizes.legend, DV, { fill: "#222" })}
        <rect x={854.5} y={18.5} width={72.5} height={18.5} rx={2.5} fill="#ffffff" fillOpacity={0.85} stroke="#cccccc" />
        <line x1={858} y1={27.5} x2={879} y2={27.5} stroke="#ff0000" strokeWidth={1.6} />
        {txt("impuls", 888, 31, sizes.legend, DV, { fill: "#222" })}

        {txt("Boda", 153.5, 91.5, sizes.place, OS)}
        {txt("Kinda", 746, 55, sizes.place, OS)}

        {/* table */}
        <rect x={500} y={195} width={275} height={43} fill="#bf8f00" />
        <rect x={500} y={238} width={275} height={70} fill="#fff2cc" />
        {txt(tableHeader[0], 231.5, 230, sizes.head, OS, { weight: 700 })}
        {txt(tableHeader[1], 323.5, 230, sizes.head, OS, { weight: 700 })}
        {txt(tableHeader[2], 434.5, 230, sizes.head, OS, { weight: 700 })}
        {txt(tableHeader[3], 502, 230, sizes.head, OS, { weight: 700 })}
        <path d={wave(323.5, 397, 234)} stroke="#e02020" strokeWidth={0.9} fill="none" />
        <path d={wave(434.5, 458, 234)} stroke="#e02020" strokeWidth={0.9} fill="none" />
        {txt(tableRow1[0], 231.5, 264, sizes.table, OS, { fill: "#1a1a1a" })}
        {txt(tableRow1[1], 323.5, 264, sizes.table, OS, { fill: "#1a1a1a" })}
        {txt(tableRow1[2], 434.5, 264, sizes.table, OS, { fill: "#1a1a1a" })}
        {txt(tableRow1[3], 502, 264, sizes.table, OS, { fill: "#1a1a1a" })}
        {txt(tableRow2[0], 231.5, 299, sizes.table, OS, { fill: "#1a1a1a" })}
        {txt(tableRow2[1], 323.5, 299, sizes.table, OS, { fill: "#1a1a1a" })}
        {txt(tableRow2[2], 434.5, 299, sizes.table, OS, { fill: "#1a1a1a" })}
        {txt(tableRow2[3], 502, 299, sizes.table, OS, { fill: "#1a1a1a" })}

        {/* panel titles */}
        {txt("Measurements and Metran model", 40, 366, sizes.title, OS, { fill: "#222" })}
        {txt("SGU_Pilot15_Boda_v20", 315, 366, sizes.title, OS, { fill: "#222" })}
        {txt("Measurements and Metran model", 521, 365, sizes.title, OS, { fill: "#222" })}
        {txt("SGU_Pilot16_Kinda_v20", 795, 365, sizes.title, OS, { fill: "#222" })}

        <line x1={28} y1={501.5} x2={145} y2={501.5} stroke="#c8c8c8" strokeWidth={1} />
        <line x1={510} y1={502.5} x2={626} y2={502.5} stroke="#c8c8c8" strokeWidth={1} />
        {txt("Decomposition", 33.5, 515.5, sizes.decomp, OS, { fill: "#222" })}
        {txt("Decomposition", 513.5, 521, sizes.decomp, OS, { fill: "#222" })}

        {txt("prec (SGU_Pilot15_Boda)", 259, 527.5, sizes.sub, DV, { anchor: "middle" })}
        {txt("prec (SGU_Pilot16_Kinda)", 751, 528.5, sizes.sub, DV, { anchor: "middle" })}
        {txt("evpf (SGU_Pilot15_Boda)", 263, 640, sizes.sub, DV, { anchor: "middle" })}
        {txt("evpf (SGU_Pilot16_Kinda)", 751, 641.5, sizes.sub, DV, { anchor: "middle" })}
      </svg>
    </div>
  );
}
